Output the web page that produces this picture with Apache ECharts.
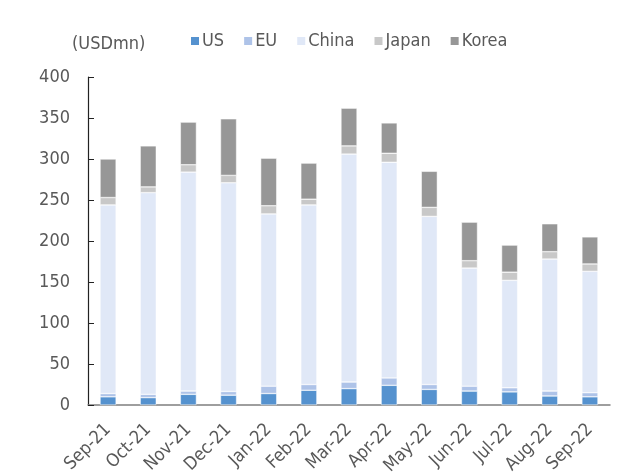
<!DOCTYPE html>
<html><head><meta charset="utf-8">
<script src="https://cdn.jsdelivr.net/npm/echarts@6/dist/echarts.min.js"></script>
<style>html,body{margin:0;padding:0;background:#fff}#c{width:639px;height:476px}</style>
</head><body><div id="c"></div>
<script>
const categories = ['Sep-21','Oct-21','Nov-21','Dec-21','Jan-22','Feb-22','Mar-22','Apr-22','May-22','Jun-22','Jul-22','Aug-22','Sep-22'];
const us    = [10, 9, 13, 12, 14, 18, 20, 24, 19, 17, 16, 11, 10];
const eu    = [4, 4, 4, 4.5, 9, 7, 8, 9, 6, 6, 5, 6, 5];
const china = [230, 246, 267, 254.5, 210, 219, 278, 263, 205, 144, 131, 161, 148];
const japan = [9, 7, 9, 9, 10, 7, 10, 11, 11, 9, 10, 9, 9];
const korea = [47, 50, 52, 69, 58, 44, 46, 37, 44, 47, 33, 34, 33];
const seriesNames = ['US','EU','China','Japan','Korea'];
const yTicks = [0, 50, 100, 150, 200, 250, 300, 350, 400];

const FONT = 'DejaVu Sans Condensed';
const colors = ['#5592CF', '#AEC3E8', '#E0E8F7', '#C8C8C8', '#979797'];
const dataSets = [us, eu, china, japan, korea];

const chart = echarts.init(document.getElementById('c'));
chart.setOption({
  animation: false,
  textStyle: {fontFamily: FONT},
  legend: {
    data: seriesNames,
    left: 184, top: 27,
    icon: 'rect', itemWidth: 10, itemHeight: 10, itemGap: 18,
    textStyle: {fontFamily: FONT, fontSize: 18, color: '#595959', padding: [0,0,0,-3]}
  },
  graphic: [{
    type: 'text', left: 72, top: 35,
    style: {text: '(USDmn)', fontFamily: FONT, fontSize: 18, fill: '#595959'}
  }],
  grid: {left: 88, right: 29, top: 77, bottom: 71, containLabel: false, outerBoundsMode: 'none'},
  xAxis: {
    type: 'category', data: categories,
    axisLine: {lineStyle: {color: '#7f7f7f', width: 1.5}},
    axisTick: {inside: true, length: 6, lineStyle: {color: '#222'}},
    axisLabel: {rotate: 45, fontFamily: FONT, fontSize: 18, color: '#595959', margin: 22, interval: 0}
  },
  yAxis: {
    type: 'value', min: yTicks[0], max: yTicks[yTicks.length-1], interval: 50,
    axisLine: {show: true, lineStyle: {color: '#222', width: 1.2}},
    axisTick: {show: true, inside: true, length: 6, lineStyle: {color: '#222'}},
    splitLine: {show: false},
    axisLabel: {fontFamily: FONT, fontSize: 18, color: '#595959', margin: 18}
  },
  series: seriesNames.map((n, i) => ({
    name: n, type: 'bar', stack: 'total', data: dataSets[i],
    barWidth: '40%',
    itemStyle: {color: colors[i], borderColor: '#fff', borderWidth: 0.5}
  }))
});
</script></body></html>
